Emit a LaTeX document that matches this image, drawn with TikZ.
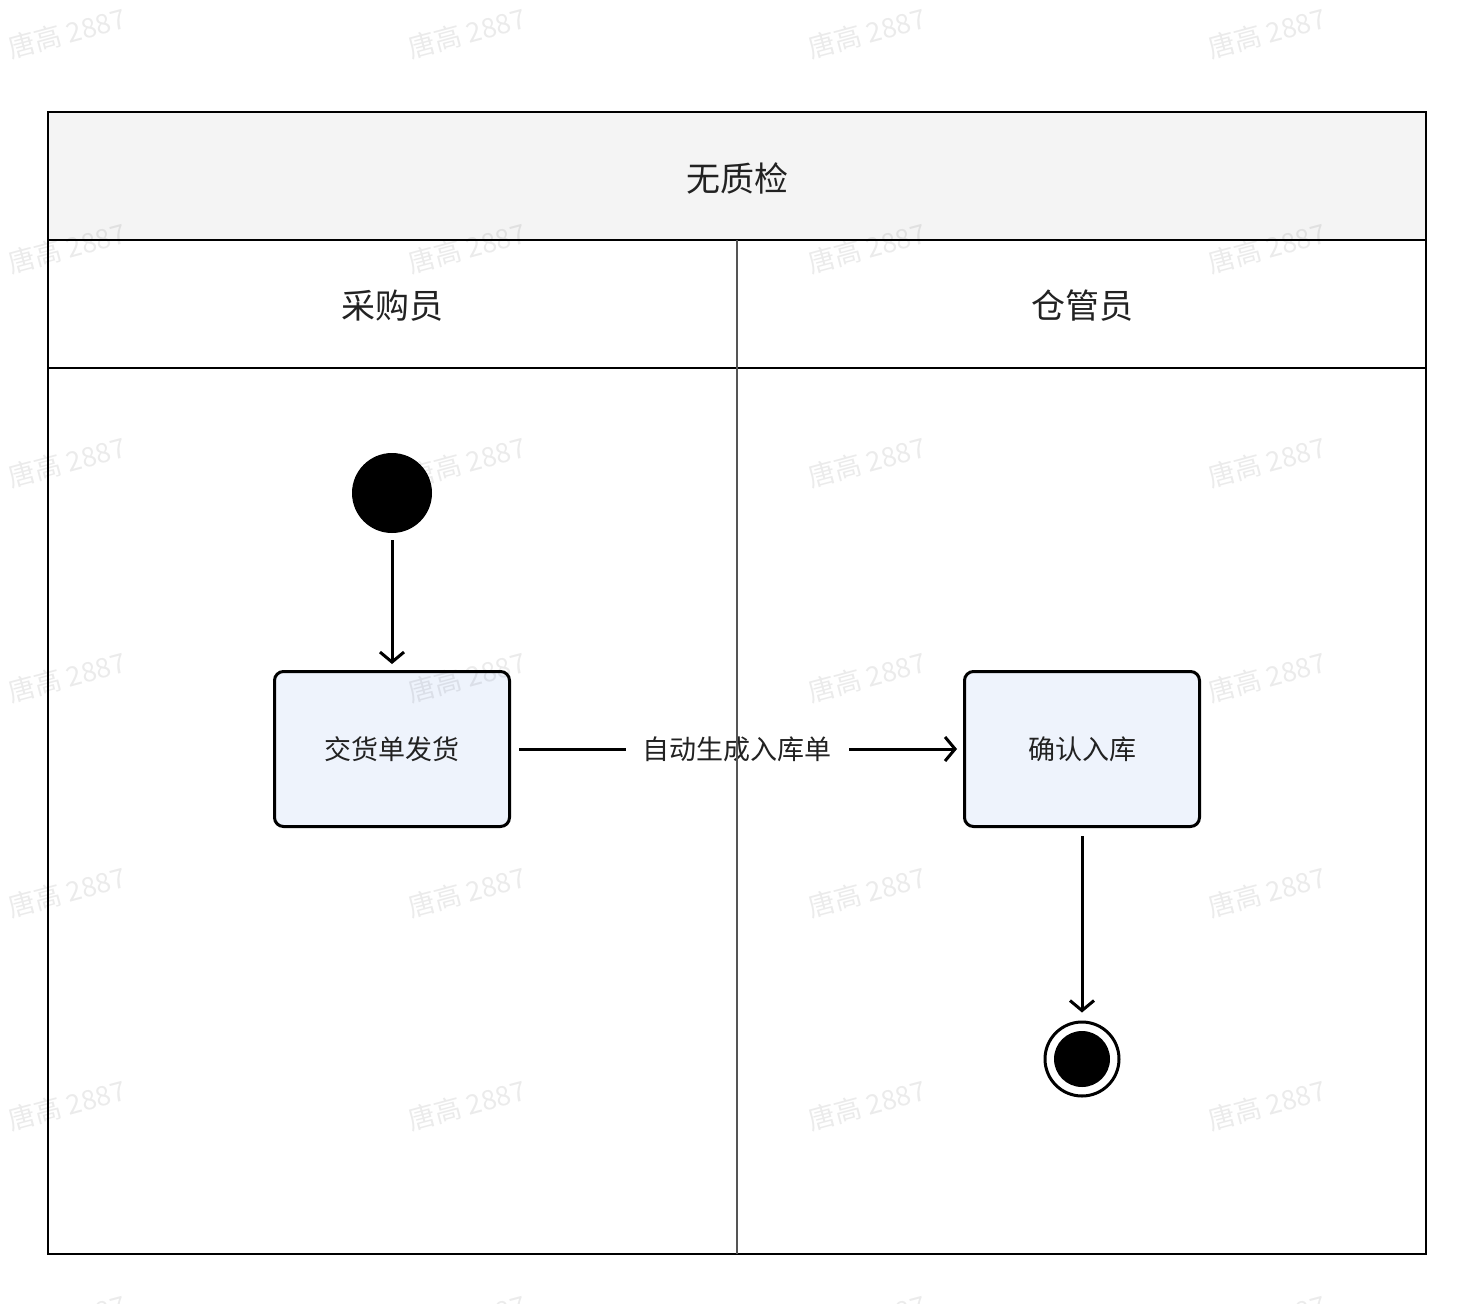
\documentclass[tikz,border=0pt]{standalone}
\usepackage{fontspec}
\setmainfont{Noto Sans CJK SC}
\usetikzlibrary{arrows.meta}
\definecolor{boxfill}{HTML}{EEF3FC}
\definecolor{headfill}{HTML}{F4F4F4}
\definecolor{txt}{HTML}{222222}
\definecolor{divider}{HTML}{555555}
\tikzset{
  x=1pt, y=-1pt,
  frame/.style={draw=black, line width=2pt},
  title/.style={text=txt, font=\fontsize{34}{40}\selectfont},
  activity/.style={draw=black, line width=3pt, fill=boxfill, rounded corners=9pt,
    minimum width=235pt, minimum height=155pt, text=txt, font=\fontsize{27}{32}\selectfont},
  flow/.style={draw=black, line width=3pt, -{Straight Barb[length=10pt, width=24pt, line width=3pt]}},
  watermark/.style={text=black, text opacity=0.08, rotate=15, font=\fontsize{27}{32}\selectfont},
}
\begin{document}
\begin{tikzpicture}
\useasboundingbox (0,0) rectangle (1476,1304);
% swimlane frame
\fill[headfill] (48,112) rectangle (1426,240);
\draw[frame] (48,112) rectangle (1426,1254);
\draw[frame] (48,240) -- (1426,240);
\draw[frame] (48,368) -- (1426,368);
\node[title] (pool) at (737,178) {无质检};
\node[title] (lane1) at (392,306) {采购员};
\node[title] (lane2) at (1082,306) {仓管员};
% nodes
\node[circle, fill=black, minimum size=80pt, inner sep=0pt] (start) at (392,493) {};
\node[activity] (a1) at (392,749) {交货单发货};
\node[activity] (a2) at (1082,749) {确认入库};
\node[circle, draw=black, line width=3pt, fill=white, minimum size=74pt, inner sep=0pt] (endo) at (1082,1059) {};
\node[circle, fill=black, minimum size=56pt, inner sep=0pt] (endi) at (1082,1059) {};
% connectors
\draw[flow, shorten <=7pt, shorten >=6pt] (start) -- (a1);
\draw[flow, shorten <=8pt, shorten >=6pt] (a1) -- node[fill=white, text=txt, inner xsep=17pt, font=\fontsize{27}{32}\selectfont] {自动生成入库单} (a2);
\draw[flow, shorten <=8pt, shorten >=8pt] (a2) -- (endo);
% lane divider on top
\draw[divider, line width=2pt] (737,240) -- (737,1254);
% watermarks
\foreach \wx in {67,467,867,1267}{
  \foreach \wy in {33,248,462,677,892,1105,1320}{
    \node[watermark] at (\wx,\wy) {唐高 2887};
  }
}
\end{tikzpicture}
\end{document}
